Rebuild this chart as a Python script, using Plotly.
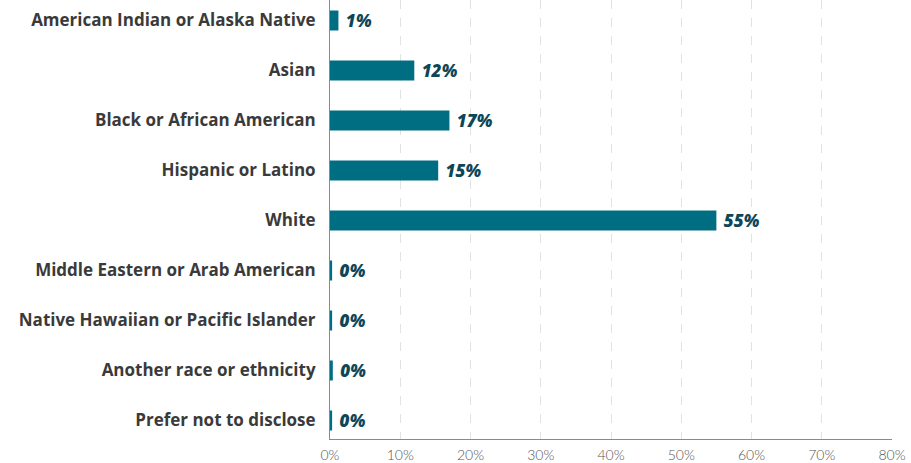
import plotly.graph_objects as go

# Share of respondents by race / ethnicity (percent)
categories = [
    "American Indian or Alaska Native",
    "Asian",
    "Black or African American",
    "Hispanic or Latino",
    "White",
    "Middle Eastern or Arab American",
    "Native Hawaiian or Pacific Islander",
    "Another race or ethnicity",
    "Prefer not to disclose",
]
values = [1.2, 12.0, 17.0, 15.4, 55.0, 0.3, 0.3, 0.4, 0.3]
tick_vals = [0, 10, 20, 30, 40, 50, 60, 70, 80]
tick_text = [f"{t}%" for t in tick_vals]

labels = [f" {round(v)}%" for v in values]

fig = go.Figure(
    go.Bar(
        x=values,
        y=categories,
        orientation="h",
        width=0.4,
        marker=dict(color="#006e82", line=dict(width=0)),
        text=labels,
        textposition="outside",
        constraintext="none",
        cliponaxis=False,
        textfont=dict(family="Open Sans", size=17, color="#0d4657",
                      weight=800, style="italic"),
        hoverinfo="skip",
    )
)

fig.update_layout(
    width=911,
    height=463,
    margin=dict(l=330, r=19, t=0, b=24, autoexpand=False),
    paper_bgcolor="white",
    plot_bgcolor="white",
    showlegend=False,
    xaxis=dict(
        range=[0, 80],
        tickvals=tick_vals,
        ticktext=tick_text,
        showgrid=True,
        gridcolor="#e2e2e2",
        griddash="dash",
        gridwidth=1,
        zeroline=False,
        showline=True,
        linecolor="#8a8a8a",
        linewidth=1,
        ticks="",
        ticklabelstandoff=3,
        automargin=False,
        tickfont=dict(family="Lato", size=14, color="#555555", weight=300),
        fixedrange=True,
    ),
    yaxis=dict(
        categoryorder="array",
        categoryarray=categories,
        range=[8.37, -0.41],
        showgrid=False,
        zeroline=False,
        showline=True,
        linecolor="#8a8a8a",
        linewidth=1,
        ticks="",
        ticklabelstandoff=10,
        automargin=False,
        tickfont=dict(family="Open Sans", size=17, color="#3a3a3a", weight="bold"),
        fixedrange=True,
    ),
)

fig.write_html("out.html")
